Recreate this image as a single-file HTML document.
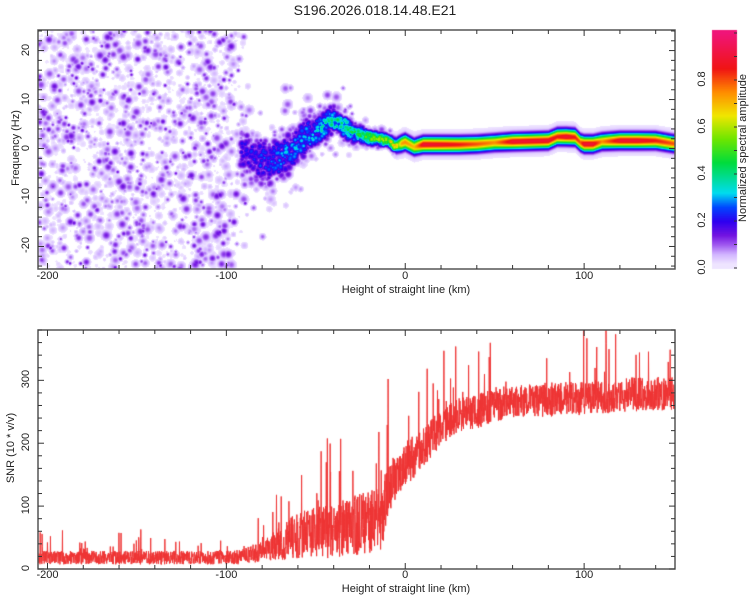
<!DOCTYPE html>
<html><head><meta charset="utf-8">
<style>
body{margin:0;background:#fff;width:750px;height:600px;position:relative;overflow:hidden;font-family:"Liberation Sans",sans-serif;color:#222}
.t{position:absolute;font-size:11px;white-space:nowrap}
.rot{transform:rotate(-90deg);transform-origin:center center}
canvas,svg{position:absolute;left:0;top:0}
</style></head><body>
<canvas id="spec" width="750" height="600"></canvas>
<canvas id="snr" width="750" height="600"></canvas>
<svg id="axes" width="750" height="600"></svg>
<div class="t" style="left:0;width:750px;top:2px;text-align:center;font-size:14px">S196.2026.018.14.48.E21</div>
<div class="t" style="left:206px;width:400px;text-align:center;top:284px">Height of straight line (km)</div>
<div class="t" style="left:206px;width:400px;text-align:center;top:583px">Height of straight line (km)</div>
<div class="t rot" style="left:-34px;top:142px;width:100px;text-align:center">Frequency (Hz)</div>
<div class="t rot" style="left:-44px;top:442px;width:110px;text-align:center">SNR (10 * v/v)</div>
<div class="t rot" style="left:663px;top:142px;width:160px;text-align:center">Normalized spectral amplitude</div>
<div id="labels"></div>
<script>
// ---- data ----
const ridgeKm =    [-92,-85,-80,-75,-70,-65,-60,-55,-50,-45,-40,-35,-30,-25,-20,-15,-10,-5,0,5,10,20,30,40,50,60,70,80,85,90,95,98,100,105,110,120,130,140,150];
const ridgeF =     [-0.5,-1.5,-2.5,-2.5,-1.8,-0.5,1.2,2.5,3.5,5,5.8,5,3.5,3,2.3,2,1.7,0.6,1.3,0.3,0.8,0.8,0.8,0.9,1.2,1.4,1.5,1.6,2.4,2.4,2.3,1.2,0.9,0.9,1.4,1.6,1.6,1.6,1.0];
const ridgeAmp =   [0.2,0.22,0.25,0.25,0.28,0.3,0.3,0.32,0.33,0.35,0.4,0.4,0.42,0.45,0.5,0.55,0.6,0.7,0.75,0.7,0.9,0.88,0.85,0.8,0.75,0.9,0.9,0.9,0.85,0.9,0.85,0.8,0.9,0.9,0.75,0.9,0.9,0.85,0.8];
const ridgeSpread= [4,4,4,4,3.5,3.5,3,3,2.5,2.5,2,2,1.5,1.2,1,0.8,0.8,0.8,0.8,0.8,0.8,0.8,0.8,0.8,0.8,0.8,0.8,0.8,0.8,0.8,0.8,0.8,0.8,0.8,0.8,0.8,0.8,0.8,0.8];
const snrKm =     [-205,-100,-90,-80,-70,-60,-50,-40,-30,-20,-13,-10,-5,0,10,20,30,40,50,70,100,130,151];
const snrMean =   [18,18,20,28,40,55,58,60,68,75,80,125,145,165,195,225,245,250,262,268,272,278,280];
const snrSpread = [12,12,14,18,30,42,45,48,52,55,58,48,42,40,36,32,30,30,30,30,30,30,30];
const xTicks = [-200,-100,0,100];
const freqTicks = [-20,-10,0,10,20];
const snrTicks = [0,100,200,300];
const cbTicks = [0.0,0.2,0.4,0.6,0.8];

// ---- geometry ----
const L=38,R=675,T1=30,B1=269,T2=330,B2=569,XMIN=-205.3,XMAX=150.8,FMIN=-24.6,FMAX=24.2,SMAX=380;
const xS=k=>L+(k-XMIN)/(XMAX-XMIN)*(R-L);
const fS=f=>B1-(f-FMIN)/(FMAX-FMIN)*(B1-T1);
const sS=v=>B2-v/SMAX*(B2-T2);
const CBX=712,CBW=25,CBT=30,CBB=268;
const cS=v=>CBB-v*(CBB-33);
function interp(xs,ys,x){if(x<=xs[0])return ys[0];for(let i=1;i<xs.length;i++){if(x<=xs[i]){const t=(x-xs[i-1])/(xs[i]-xs[i-1]);return ys[i-1]+t*(ys[i]-ys[i-1]);}}return ys[ys.length-1];}
let seed=12345;function rnd(){seed|=0;seed=seed+0x6D2B79F5|0;let t=Math.imul(seed^seed>>>15,1|seed);t=t+Math.imul(t^t>>>7,61|t)^t;return((t^t>>>14)>>>0)/4294967296;}
function gauss(){return (rnd()+rnd()+rnd()-1.5)*1.4;}
const stops=[[0,[255,255,255]],[0.02,[238,228,255]],[0.06,[210,180,255]],[0.1,[160,90,240]],[0.14,[115,20,225]],[0.2,[45,0,240]],[0.26,[0,70,255]],[0.32,[0,220,240]],[0.45,[0,220,60]],[0.55,[110,230,0]],[0.65,[240,230,0]],[0.75,[255,140,0]],[0.85,[240,20,20]],[1,[240,20,120]]];
function cmap(v){v=Math.max(0,Math.min(1,v));for(let i=1;i<stops.length;i++){if(v<=stops[i][0]){const a=stops[i-1],b=stops[i],t=(v-a[0])/(b[0]-a[0]);return a[1].map((c,j)=>Math.round(c+t*(b[1][j]-c)));}}return stops[stops.length-1][1];}

// ---- spectrogram ----
const W=R-L,H=B1-T1,F=new Float32Array(W*H);
function blob(cx,cy,r,a){const x0=Math.max(0,Math.floor(cx-L-2*r)),x1=Math.min(W-1,Math.ceil(cx-L+2*r)),y0=Math.max(0,Math.floor(cy-T1-2*r)),y1=Math.min(H-1,Math.ceil(cy-T1+2*r));for(let y=y0;y<=y1;y++)for(let x=x0;x<=x1;x++){const dx=x+L-cx,dy=y+T1-cy,v=a*Math.exp(-(dx*dx+dy*dy)/(r*r));const i=y*W+x;if(v>F[i])F[i]=v;}}
// background noise blobs
for(let n=0;n<2100;n++){const k=XMIN+rnd()*(-84-XMIN);if(k>-97&&rnd()<(k+97)/13+0.3)continue;const f=FMIN+rnd()*(FMAX-FMIN);const u=rnd();blob(xS(k),fS(f),1.7+rnd()*2.8,0.022+0.13*Math.pow(u,2.4));}
// clumpy ridge
for(let k=-92;k<=-5;k+=0.25){const f=interp(ridgeKm,ridgeF,k),a=interp(ridgeKm,ridgeAmp,k),s=interp(ridgeKm,ridgeSpread,k);
 for(let j=0;j<3;j++){const off=gauss()*s*0.9;blob(xS(k),fS(f+off),2.4+rnd()*2,a*(0.4+0.8*rnd())*Math.exp(-off*off/(2*s*s)));}
 if(rnd()<0.6)blob(xS(k),fS(f+gauss()*s*2.2),2+rnd()*2.5,0.04+0.08*rnd());}
// continuous ridge
for(let x=0;x<W;x++){const k=XMIN+(x+0.5)/W*(XMAX-XMIN);if(k<-12)continue;const f=interp(ridgeKm,ridgeF,k),a=interp(ridgeKm,ridgeAmp,k);const w=Math.min(1,(k+12)/10);
 for(let y=0;y<H;y++){const fy=FMAX-(y+0.5)/H*(FMAX-FMIN),df=fy-f;const v=w*Math.max(a*Math.exp(-df*df/2.0),0.1*Math.exp(-df*df/6));const i=y*W+x;if(v>F[i])F[i]=v;}}
const ctx=document.getElementById('spec').getContext('2d');
const img=ctx.createImageData(W,H);
for(let i=0;i<W*H;i++){const v=F[i];const c=v<0.018?[255,255,255]:cmap(v);img.data[4*i]=c[0];img.data[4*i+1]=c[1];img.data[4*i+2]=c[2];img.data[4*i+3]=255;}
ctx.putImageData(img,L,T1);
// colorbar
for(let y=CBT;y<=CBB;y++){const v=(CBB-y)/(CBB-33);const c=cmap(Math.min(1,Math.max(0.02,v)));ctx.fillStyle=`rgb(${c})`;ctx.fillRect(CBX,y,CBW,1);}

// ---- SNR ----
const sc=document.getElementById('snr').getContext('2d');
sc.save();sc.beginPath();sc.rect(L,T2,R-L,B2-T2);sc.clip();
sc.strokeStyle='#ee3333';sc.lineWidth=1;sc.beginPath();
let first=true;
for(let k=XMIN;k<=XMAX;k+=0.12){const m=interp(snrKm,snrMean,k),s=interp(snrKm,snrSpread,k);let v=m+(rnd()*2-1)*s*0.9;if(rnd()<0.035)v+=s*(1+2.2*rnd());v=Math.max(0,v);
 const px=xS(k),py=sS(v);if(first){sc.moveTo(px,py);first=false;}else sc.lineTo(px,py);}
sc.stroke();sc.restore();

// ---- axes ----
const svg=document.getElementById('axes'),NS='http://www.w3.org/2000/svg';
function line(x1,y1,x2,y2,name){const l=document.createElementNS(NS,'line');l.setAttribute('x1',x1);l.setAttribute('y1',y1);l.setAttribute('x2',x2);l.setAttribute('y2',y2);l.setAttribute('stroke','#333');l.setAttribute('stroke-width','1');
 
 
 svg.appendChild(l);}
function frame(t,b,name){const r=document.createElementNS(NS,'rect');r.setAttribute('x',L);r.setAttribute('y',t);r.setAttribute('width',R-L);r.setAttribute('height',b-t);r.setAttribute('fill','none');r.setAttribute('stroke','#555');r.setAttribute('stroke-width','1.5');
 
 
 svg.appendChild(r);}
frame(T1,B1,'top-plot-frame');frame(T2,B2,'bottom-plot-frame');
for(let k=-200;k<=150;k+=20){const x=xS(k),big=k%100===0?6:4;
 line(x,B1,x,B1-big,'x-tick');line(x,T1,x,T1+big,'x-tick');line(x,B2,x,B2-big,'x-tick');line(x,T2,x,T2+big,'x-tick');}
for(let f=-24;f<=24;f+=2){const y=fS(f),big=f%10===0?6:4;line(L,y,L+big,y,'y-tick');line(R,y,R-big,y,'y-tick');}
for(let v=0;v<=380;v+=20){const y=sS(v),big=v%100===0?6:4;line(L,y,L+big,y,'y-tick');line(R,y,R-big,y,'y-tick');}
for(let v=0;v<=1;v+=0.1){line(CBX+CBW,cS(v),CBX+CBW-3,cS(v),'colorbar-tick');}
const lab=document.getElementById('labels');
function txt(s,x,y,rot,name){const d=document.createElement('div');d.className='t'+(rot?' rot':'');d.textContent=s;d.style.width='40px';d.style.textAlign='center';d.style.left=(x-20)+'px';d.style.top=(y-7)+'px';
 
 
 lab.appendChild(d);}
xTicks.forEach(k=>{txt(String(k),xS(k),277,false,'x-tick-label');txt(String(k),xS(k),576,false,'x-tick-label');});
freqTicks.forEach(f=>txt(String(f),26,fS(f),true,'freq-tick-label'));
snrTicks.forEach(v=>txt(String(v),26,sS(v),true,'snr-tick-label'));
cbTicks.forEach(v=>txt(v.toFixed(1),702,cS(v),true,'colorbar-tick-label'));
</script>
</body></html>
